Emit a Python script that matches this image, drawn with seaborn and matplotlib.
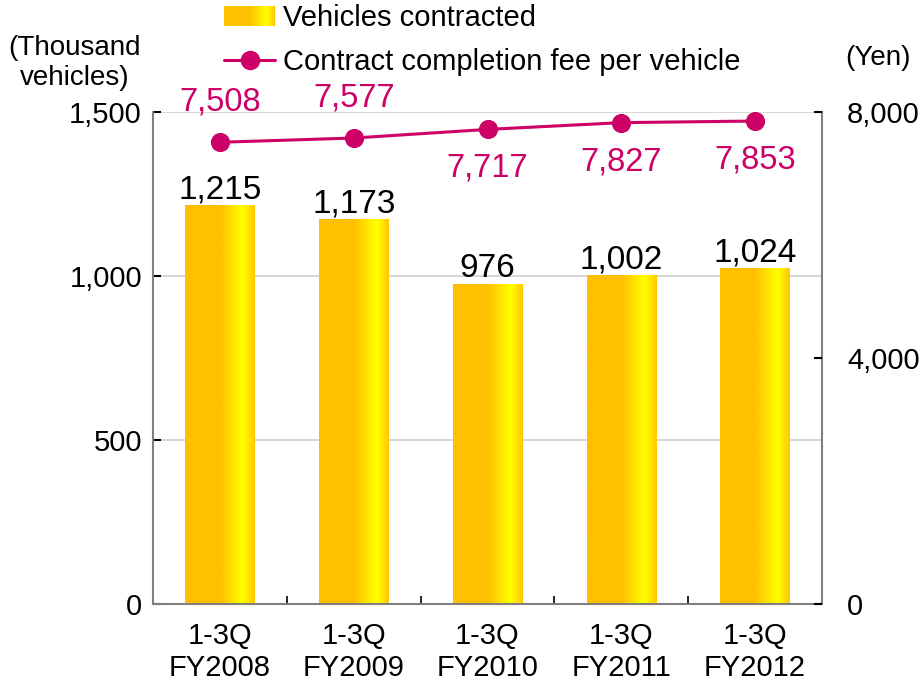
import numpy as np
import pandas as pd
import matplotlib
matplotlib.use("Agg")
import matplotlib.pyplot as plt
import seaborn as sns
from matplotlib.colors import LinearSegmentedColormap
from matplotlib.legend_handler import HandlerBase
from matplotlib.patches import Rectangle
from matplotlib.lines import Line2D

categories = ["1-3Q\nFY2008", "1-3Q\nFY2009", "1-3Q\nFY2010", "1-3Q\nFY2011", "1-3Q\nFY2012"]
vehicles = [1215, 1173, 976, 1002, 1024]
fee = [7508, 7577, 7717, 7827, 7853]
fee_label_above = [True, True, False, False, False]
left_ticks = [0, 500, 1000, 1500]
right_ticks = [0, 4000, 8000]

sns.set_theme(style="white")
plt.rcParams['font.family'] = ['Liberation Sans', 'DejaVu Sans']
plt.rcParams['text.color'] = 'black'
plt.rcParams['xtick.color'] = 'black'
plt.rcParams['ytick.color'] = 'black'
plt.rcParams['xtick.labelcolor'] = 'black'
plt.rcParams['ytick.labelcolor'] = 'black'

LINE_C = "#CC0066"
grad_cmap = LinearSegmentedColormap.from_list(
    "g", [(0.0, "#FFC000"), (0.5, "#FFC000"), (0.83, "#FFFF00"), (1.0, "#FFC800")])

fig = plt.figure(figsize=(9.24, 6.93), dpi=100)
ax = fig.add_axes([153/924, 1-604/693, (822-153)/924, (604-112)/693])

df = pd.DataFrame({"cat": categories, "veh": vehicles})
sns.barplot(data=df, x="cat", y="veh", ax=ax, width=0.52, color="#FFC000", saturation=1, zorder=2)

grad = np.linspace(0, 1, 256).reshape(1, -1)
for p in list(ax.patches):
    x0, y0 = p.get_x(), p.get_y()
    w, h = p.get_width(), p.get_height()
    im = ax.imshow(grad, cmap=grad_cmap, aspect="auto", extent=[x0, x0+w, y0, y0+h],
                   zorder=2.5, interpolation="bilinear")
    im.set_clip_path(p)
    p.set_facecolor("none")
    p.set_edgecolor("none")

ax.set_xlim(-0.5, 4.5)
ax.set_ylim(0, 1500)
ax.set_yticks(left_ticks)
ax.set_yticklabels([f"{v:,}" for v in left_ticks])
ax.yaxis.grid(True, color="#D0D0D0", linewidth=1.2, zorder=0)
ax.set_axisbelow(True)
ax.set_xlabel("")
ax.set_ylabel("")

for i, v in enumerate(vehicles):
    ax.annotate(f"{v:,}", (i, v), xytext=(0, 0), textcoords="offset points",
                ha="center", va="bottom", fontsize=24, color="black", zorder=5)

ax.set_xticks(range(len(categories)))
ax.set_xticklabels(categories, fontsize=21, linespacing=1.2)
ax.tick_params(axis="x", which="major", length=0, pad=13)
ax.set_xticks([0.5, 1.5, 2.5, 3.5], minor=True)
ax.tick_params(axis="x", which="minor", direction="in", length=6, width=1.2, color="black", bottom=True)
ax.tick_params(axis="y", direction="in", length=6, width=1.5, color="black", labelsize=21, pad=8, left=True)

for s in ["left", "right", "bottom"]:
    ax.spines[s].set_color("#808080")
    ax.spines[s].set_linewidth(1.5)
ax.spines["top"].set_visible(False)

ax2 = ax.twinx()
xs = np.arange(len(fee))
sns.lineplot(x=xs, y=fee, ax=ax2, color=LINE_C, linewidth=2.2, marker="o",
             markersize=13, markeredgecolor=LINE_C, zorder=4)
ax2.set_ylim(0, 8000)
ax2.set_xlim(-0.5, 4.5)
ax2.set_yticks(right_ticks)
ax2.set_yticklabels([f"{v:,}" for v in right_ticks])
ax2.tick_params(axis="y", direction="in", length=6, width=1.5, color="black", labelsize=21, pad=18, right=True)
for s in ["left", "right", "bottom", "top"]:
    ax2.spines[s].set_visible(False)
ax2.set_ylabel("")

for i, v in enumerate(fee):
    dy = 29 if fee_label_above[i] else -28
    ax2.annotate(f"{v:,}", (i, v), xytext=(0, dy), textcoords="offset points",
                 ha="center", va="center", fontsize=23.5, color=LINE_C, zorder=6)

fig.text(75/924, 1-63/693, "(Thousand\nvehicles)", ha="center", va="center", fontsize=20, linespacing=1.2)
fig.text(878/924, 1-58/693, "(Yen)", ha="center", va="center", fontsize=20)


class HandlerGradient(HandlerBase):
    def create_artists(self, legend, orig_handle, xdescent, ydescent, width, height, fontsize, trans):
        arts = []
        n = 40
        for k in range(n):
            c = grad_cmap((k + 0.5) / n)
            r = Rectangle((-xdescent + width * k / n, -ydescent), width / n * 1.05, height,
                          facecolor=c, edgecolor="none", transform=trans)
            arts.append(r)
        return arts


bar_handle = Rectangle((0, 0), 1, 1)
line_handle = Line2D([0], [0], color=LINE_C, linewidth=2.2, marker="o", markersize=13)
fig.legend([bar_handle, line_handle], ["Vehicles contracted", "Contract completion fee per vehicle"],
           handler_map={Rectangle: HandlerGradient()},
           loc="upper left", bbox_to_anchor=(220/924, 1.0), frameon=False, fontsize=21,
           handlelength=1.75, handletextpad=0.25, labelspacing=0.55, borderaxespad=0.05, borderpad=0.1)

fig.savefig("out.png", dpi=100)
